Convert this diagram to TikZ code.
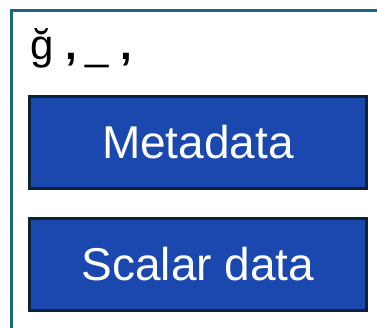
\documentclass[tikz,border=0pt]{standalone}
\usepackage{fontspec}
\setmainfont{Liberation Sans}
\definecolor{framec}{HTML}{1D6489}
\definecolor{boxfill}{HTML}{1A48AE}
\definecolor{boxline}{HTML}{0C2336}
\tikzset{
  databox/.style={draw=boxline, line width=3pt, fill=boxfill, text=white,
    minimum width=337pt, minimum height=92pt, inner sep=0pt,
    font=\fontsize{46}{50}\selectfont},
}
\begin{document}
\begin{tikzpicture}[x=1pt,y=-1pt]
\useasboundingbox (0,0) rectangle (377,327);
\begin{scope}
\clip (0,0) rectangle (377,327);
\draw[framec, line width=3pt] (11.5,10) rectangle (420,380);
\end{scope}
\node[anchor=base west, inner sep=0pt, font=\fontsize{42}{46}\selectfont] (title) at (30,59) {ğ\hspace{12pt}\textbf{,}\hspace{8pt}\_\hspace{12pt}\textbf{,}};
\node[databox] (meta) at (198,142.5) {Metadata};
\node[databox] (scalar) at (198,264.5) {Scalar data};
\end{tikzpicture}
\end{document}
